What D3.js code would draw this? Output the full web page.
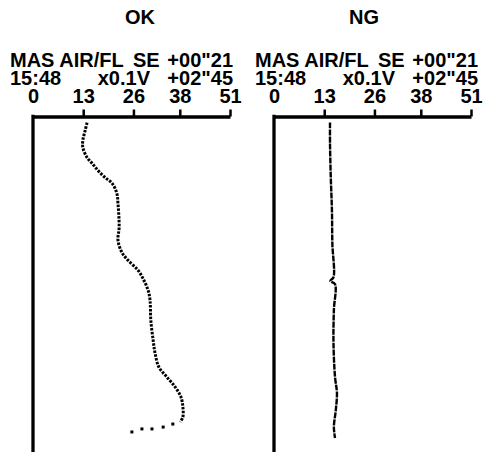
<!DOCTYPE html>
<html>
<head>
<meta charset="utf-8">
<script src="https://cdn.jsdelivr.net/npm/d3@7"></script>
<style>
  body { margin: 0; background: #fff; }
  svg text { font-family: 'Liberation Sans', Arial, sans-serif; font-weight: bold; font-size: 20px; fill: #000; }
</style>
</head>
<body>
<div id="chart"></div>
<script>
// panel titles and header texts
let panelTitles = ['OK', 'NG']
let headerTop = ['MAS AIR/FL', 'SE', '+00"21']
let headerBottom = ['15:48', 'x0.1V', '+02"45']
let tickValues = [0, 13, 26, 38, 51]
// time axis (seconds), +00"21 .. +02"45
let timeDomain = [21, 165]

// OK trace: time (s) and output (x0.1V)
let okTime = [23.6, 27.0, 31.3, 34.3, 38.6, 41.1, 44.1, 47.1, 49.7, 54.0, 58.3, 68.6, 74.1, 79.3, 82.7, 87.0, 91.3, 95.6, 99.9, 108.4, 117.0, 122.6, 128.6, 132.9, 137.1, 141.4, 145.7, 150.0, 152.1]
let okValue = [14.0, 13.5, 12.9, 12.9, 14.0, 15.3, 16.8, 18.6, 20.5, 21.7, 22.0, 22.3, 22.0, 23.0, 24.6, 27.2, 28.7, 29.8, 30.3, 30.5, 31.1, 31.6, 32.6, 34.7, 36.8, 38.3, 38.8, 38.8, 38.1]
// last sparse samples of the OK trace
let okTailTime = [153.0, 154.3, 155.1, 155.1, 156.4]
let okTailValue = [36.2, 33.7, 30.8, 28.2, 25.6]

// NG trace
let ngTime = [23.6, 32.6, 47.1, 61.3, 75.4, 90.0, 91.6, 93.0, 104.1, 118.3, 132.9, 139.7, 147.0, 154.3, 159.0]
let ngValue = [14.5, 14.5, 14.7, 15.0, 15.1, 15.4, 14.6, 15.8, 15.5, 15.4, 15.8, 16.3, 16.0, 15.5, 15.8]

let initChart = () => {
  let width = 496
  let height = 460
  let panelX = [0, 241]
  let textX = [0, 245]
  let titleX = [140, 364]

  let svg = d3
    .select('#chart')
    .append('svg')
    .attr('width', width)
    .attr('height', height)

  svg.append('rect').attr('width', width).attr('height', height).attr('fill', '#fff')

  let x = d3.scaleLinear().domain([0, 51]).range([33, 230])
  let y = d3.scaleLinear().domain(timeDomain).range([116.5, 452])

  let series = [
    { time: okTime, value: okValue, tailTime: okTailTime, tailValue: okTailValue },
    { time: ngTime, value: ngValue }
  ]

  let line = d3
    .line()
    .x(d => x(d[1]))
    .y(d => y(d[0]))
    .curve(d3.curveCatmullRom)

  series.forEach((s, i) => {
    let g = svg.append('g').attr('transform', 'translate(' + panelX[i] + ',0)')
    let tg = svg.append('g').attr('transform', 'translate(' + textX[i] + ',0)')

    svg
      .append('text')
      .attr('x', titleX[i])
      .attr('y', 24)
      .attr('text-anchor', 'middle')
      .text(panelTitles[i])

    // header rows
    tg.append('text').attr('x', 10).attr('y', 67).text(headerTop[0])
    tg.append('text').attr('x', 133).attr('y', 67).text(headerTop[1])
    tg.append('text').attr('x', 233).attr('y', 67).attr('text-anchor', 'end').text(headerTop[2])
    tg.append('text').attr('x', 10).attr('y', 85).text(headerBottom[0])
    tg.append('text').attr('x', 150).attr('y', 85).attr('text-anchor', 'end').text(headerBottom[1])
    tg.append('text').attr('x', 233).attr('y', 85).attr('text-anchor', 'end').text(headerBottom[2])

    // top value axis
    let axis = g
      .append('g')
      .attr('transform', 'translate(0,' + y(timeDomain[0]) + ')')
      .call(
        d3
          .axisTop(x)
          .tickValues(tickValues)
          .tickSize(7)
          .tickSizeOuter(0)
          .tickFormat(d3.format('d'))
      )
    axis.attr('font-size', null).attr('font-family', null)
    axis.select('.domain').attr('stroke', '#000').attr('stroke-width', 3.5)
    axis.selectAll('.tick line').attr('stroke', '#000').attr('stroke-width', 2.5)
    axis.selectAll('.tick').filter(d => d === 0).select('line').remove()
    axis
      .selectAll('.tick text')
      .attr('y', -13.5)
      .attr('dy', 0)
      .attr('fill', '#000')

    // left time axis line
    g.append('line')
      .attr('x1', x(0))
      .attr('x2', x(0))
      .attr('y1', y(timeDomain[0]) - 1.75)
      .attr('y2', y(timeDomain[1]))
      .attr('stroke', '#000')
      .attr('stroke-width', 3.3)

    let pts = s.time.map((t, k) => [t, s.value[k]])
    g.append('path')
      .datum(pts)
      .attr('d', line)
      .attr('fill', 'none')
      .attr('stroke', '#000')
      .attr('stroke-width', i === 0 ? 3 : 2.4)
      .attr('stroke-dasharray', i === 0 ? '2.5,1.3' : '6,1')

    if (s.tailTime) {
      g.selectAll('rect.tail')
        .data(s.tailTime.map((t, k) => [t, s.tailValue[k]]))
        .enter()
        .append('rect')
        .attr('class', 'tail')
        .attr('x', d => x(d[1]) - 1.5)
        .attr('y', d => y(d[0]) - 1.5)
        .attr('width', 3)
        .attr('height', 3)
        .attr('fill', '#000')
    }
  })
}

initChart()
</script>
</body>
</html>
